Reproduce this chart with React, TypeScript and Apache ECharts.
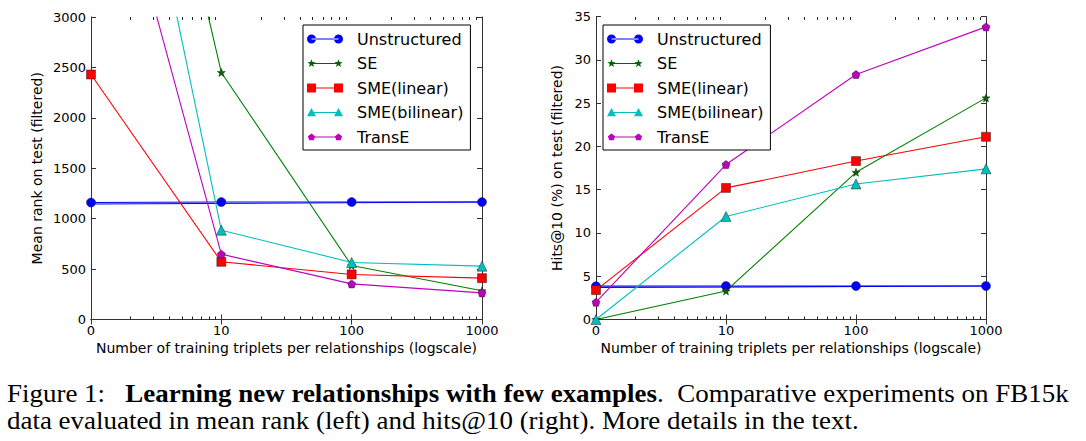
import React, { useEffect, useRef } from "react";
import * as echarts from "echarts";

// ---------- data ----------
const xPositions = [1, 10, 100, 1000]; // log-scale positions of the ticks
const xTickLabels = ["0", "10", "100", "1000"];
const minorTicks = [2, 3, 4, 5, 6, 7, 8, 9, 20, 30, 40, 50, 60, 70, 80, 90, 200, 300, 400, 500, 600, 700, 800, 900];

const seriesNames = ["Unstructured", "SE", "SME(linear)", "SME(bilinear)", "TransE"];

// Mean rank (left)
const mrUnstructured = [1160, 1165, 1165, 1165];
const mrUnstructuredLow = [1145, null, null, 1165];
const mrSE = [8000, 2450, 535, 285];
const mrSMELinear = [2430, 572, 447, 410];
const mrSMEBilinear = [7100, 886, 566, 529];
const mrTransE = [5400, 648, 353, 264];

// Hits@10 (right)
const hUnstructured = [3.85, 3.87, 3.87, 3.87];
const hUnstructuredLow = [3.7, null, null, 3.87];
const hSE = [0, 3.3, 17.0, 25.6];
const hSMELinear = [3.4, 15.2, 18.3, 21.1];
const hSMEBilinear = [0, 11.9, 15.66, 17.4];
const hTransE = [2.0, 17.9, 28.3, 33.8];

const leftY = { min: 0, max: 3000, interval: 500 };
const rightY = { min: 0, max: 35, interval: 5 };

// ---------- styles ----------
const FONT = "DejaVu Sans";
const AXIS_COLOR = "#333";
const colors: Record<string, string> = {
  Unstructured: "#0000ff",
  SE: "#008000",
  "SME(linear)": "#ff0000",
  "SME(bilinear)": "#00bfbf",
  TransE: "#bf00bf",
};
const markerFill: Record<string, string> = {
  Unstructured: "#0000ff",
  SE: "#006400",
  "SME(linear)": "#ff0000",
  "SME(bilinear)": "#00bfbf",
  TransE: "#bf00bf",
};

function starPath(cx: number, cy: number, R: number, r: number) {
  let d = "";
  for (let i = 0; i < 10; i++) {
    const rad = i % 2 === 0 ? R : r;
    const a = -Math.PI / 2 + (i * Math.PI) / 5;
    const x = cx + rad * Math.cos(a);
    const y = cy + rad * Math.sin(a);
    d += (i === 0 ? "M" : "L") + x.toFixed(2) + "," + y.toFixed(2) + " ";
  }
  return d + "Z ";
}
function pentPath(cx: number, cy: number, R: number) {
  let d = "";
  for (let i = 0; i < 5; i++) {
    const a = -Math.PI / 2 + (i * 2 * Math.PI) / 5;
    d += (i === 0 ? "M" : "L") + (cx + R * Math.cos(a)).toFixed(2) + "," + (cy + R * Math.sin(a)).toFixed(2) + " ";
  }
  return d + "Z ";
}
function circlePath(cx: number, cy: number, r: number) {
  return `M${cx - r},${cy} A${r},${r} 0 1,0 ${cx + r},${cy} A${r},${r} 0 1,0 ${cx - r},${cy} Z `;
}
function rectPath(cx: number, cy: number, h: number) {
  return `M${cx - h},${cy - h} L${cx + h},${cy - h} L${cx + h},${cy + h} L${cx - h},${cy + h} Z `;
}
function triPath(cx: number, cy: number, h: number) {
  return `M${cx},${cy - h} L${cx + h},${cy + h * 0.85} L${cx - h},${cy + h * 0.85} Z `;
}
const bar = "M4.5,4.45 L31.5,4.45 L31.5,5.55 L4.5,5.55 Z";
const frame = "M0,0 L0.01,0 Z M36,10 L35.99,10 Z ";
const legendIcons: Record<string, string> = {
  Unstructured: "path://" + circlePath(4.5, 5, 4.5) + circlePath(31.5, 5, 4.5) + bar,
  SE: "path://" + frame + starPath(4.5, 5, 4.2, 1.8) + starPath(31.5, 5, 4.2, 1.8) + bar,
  "SME(linear)": "path://" + rectPath(4.5, 5, 4.5) + rectPath(31.5, 5, 4.5) + bar,
  "SME(bilinear)": "path://" + frame + triPath(4.5, 5, 4.5) + triPath(31.5, 5, 4.5) + bar,
  TransE: "path://" + frame + pentPath(4.5, 5.3, 3.8) + pentPath(31.5, 5.3, 3.8) + bar,
};
const symbols: Record<string, { symbol: string; size: number }> = {
  Unstructured: { symbol: "circle", size: 9 },
  SE: { symbol: "path://" + starPath(50, 50, 50, 21), size: 8 },
  "SME(linear)": { symbol: "rect", size: 9 },
  "SME(bilinear)": { symbol: "triangle", size: 10 },
  TransE: { symbol: "path://" + pentPath(50, 50, 50), size: 8 },
};

function toPairs(vals: (number | null)[]) {
  return xPositions.map((x, i) => [x, vals[i] === null ? "-" : vals[i]]);
}

function lineSeries(name: string, vals: (number | null)[], ax: number, extra: any = {}) {
  return {
    type: "line",
    name,
    xAxisIndex: ax,
    yAxisIndex: ax,
    data: toPairs(vals),
    symbol: symbols[name] ? symbols[name].symbol : "none",
    symbolSize: symbols[name] ? symbols[name].size : 0,
    lineStyle: { color: colors[name], width: 1.1 },
    itemStyle: { color: markerFill[name], borderColor: "#222", borderWidth: 0.5 },
    clip: true,
    ...extra,
  };
}

function minorTickSeries(ax: number, yr: { min: number; max: number }) {
  return {
    type: "custom",
    xAxisIndex: ax,
    yAxisIndex: ax,
    silent: true,
    clip: false,
    data: minorTicks.map((v) => [v, (yr.min + yr.max) / 2]),
    encode: { x: 0, y: 1 },
    renderItem: (params: any, api: any) => {
      const cs = params.coordSys;
      const p = api.coord([api.value(0), api.value(1)]);
      const x = Math.round(p[0]) + 0.5;
      const top = Math.round(cs.y);
      const bottom = Math.round(cs.y + cs.height);
      const st = { stroke: "#222", lineWidth: 1 };
      return {
        type: "group",
        children: [
          { type: "line", shape: { x1: x, y1: bottom, x2: x, y2: bottom - 3.5 }, style: st, z2: 10 },
          { type: "line", shape: { x1: x, y1: top, x2: x, y2: top + 3 }, style: st, z2: 10 },
        ],
      };
    },
    z: 10,
  };
}

function xAxes(grid: number, name: string) {
  const base = {
    type: "log",
    logBase: 10,
    min: 1,
    max: 1000,
    gridIndex: grid,
    splitLine: { show: false },
    axisLine: { lineStyle: { color: AXIS_COLOR, width: 1 } },
    axisTick: { inside: true, length: 5, lineStyle: { color: AXIS_COLOR } },
  };
  return [
    {
      ...base,
      position: "bottom",
      name,
      nameLocation: "middle",
      nameGap: 17,
      nameTextStyle: { fontFamily: FONT, fontSize: 14, color: "#000" },
      axisLabel: {
        fontFamily: FONT,
        fontSize: 13,
        color: "#000",
        margin: 4,
        formatter: (v: number) => {
          const i = xPositions.findIndex((p) => Math.abs(p - v) < 1e-6);
          return i >= 0 ? xTickLabels[i] : "";
        },
      },
    },
    { ...base, position: "top", axisLabel: { show: false } },
  ];
}

function yAxes(grid: number, r: { min: number; max: number; interval: number }, name: string, gap: number) {
  const base = {
    type: "value",
    gridIndex: grid,
    min: r.min,
    max: r.max,
    interval: r.interval,
    splitLine: { show: false },
    axisLine: { show: true, lineStyle: { color: AXIS_COLOR, width: 1 } },
    axisTick: { show: true, inside: true, length: 5, lineStyle: { color: AXIS_COLOR } },
  };
  return [
    {
      ...base,
      position: "left",
      name,
      nameLocation: "middle",
      nameGap: gap,
      nameTextStyle: { fontFamily: FONT, fontSize: 14, color: "#000" },
      axisLabel: { fontFamily: FONT, fontSize: 13, color: "#000", margin: 5, formatter: (v: number) => String(v) },
    },
    { ...base, position: "right", axisLabel: { show: false } },
  ];
}

function legend(left: number) {
  return {
    orient: "vertical",
    left,
    top: 25,
    data: seriesNames.map((n) => ({ name: n, icon: legendIcons[n] })),
    itemWidth: 36,
    itemHeight: 10,
    itemGap: 8.5,
    padding: [6, 7, 5, 4],
    backgroundColor: "#fff",
    borderColor: "#000",
    borderWidth: 1,
    borderRadius: 0,
    selectedMode: false,
    itemStyle: { borderWidth: 0 },
    textStyle: { fontFamily: FONT, fontSize: 16, color: "#000", padding: [0, 0, 0, 9] },
  };
}

export default function App() {
  const ref = useRef<HTMLDivElement>(null);
  useEffect(() => {
    if (!ref.current) return;
    const chart = echarts.init(ref.current, null, { renderer: "svg" });
    const mr = [mrUnstructured, mrSE, mrSMELinear, mrSMEBilinear, mrTransE];
    const hv = [hUnstructured, hSE, hSMELinear, hSMEBilinear, hTransE];
    const capFont = { fontFamily: "Liberation Serif", fontSize: 24.5, lineHeight: 25, fill: "#000" };
    const option: any = {
      animation: false,
      backgroundColor: "#fff",
      grid: [
        { left: 91, top: 17, width: 391, height: 302.5 },
        { left: 596, top: 16.5, width: 390, height: 303 },
      ],
      xAxis: [
        ...xAxes(0, "Number of training triplets per relationships (logscale)"),
        ...xAxes(1, "Number of training triplets per relationships (logscale)"),
      ],
      yAxis: [
        ...yAxes(0, leftY, "Mean rank on test (filtered)", 47),
        ...yAxes(1, rightY, "Hits@10 (%) on test (filtered)", 32),
      ],
      legend: [legend(303), legend(603)],
      series: [
        lineSeries("Unstructured", mrUnstructuredLow, 0, { name: "Unstructured low", symbol: "none", connectNulls: true, lineStyle: { color: colors.Unstructured, width: 1.1 } }),
        ...seriesNames.map((n, i) => lineSeries(n, mr[i], 0)),
        lineSeries("Unstructured", hUnstructuredLow, 2, { name: "Unstructured low", symbol: "none", connectNulls: true, lineStyle: { color: colors.Unstructured, width: 1.1 } }),
        ...seriesNames.map((n, i) => lineSeries(n, hv[i], 2)),
        minorTickSeries(0, leftY),
        minorTickSeries(2, rightY),
      ],
      graphic: [
        {
          type: "text",
          x: 7,
          y: 394,
          scaleX: 1.1,
          style: {
            text: "{n|Figure 1:   }{b|Learning new relationships with few examples}{n|.  Comparative experiments on FB15k}",
            verticalAlign: "middle",
            rich: {
              n: { ...capFont },
              b: { ...capFont, fontWeight: "bold" },
            },
          },
        },
        {
          type: "text",
          x: 7,
          y: 421,
          scaleX: 1.1,
          style: {
            text: "data evaluated in mean rank (left) and hits@10 (right). More details in the text.",
            verticalAlign: "middle",
            ...capFont,
          },
        },
      ],
    };
    chart.setOption(option);
    return () => chart.dispose();
  }, []);
  return <div ref={ref} style={{ position: "fixed", left: 0, top: 0, width: 1086, height: 441 }} />;
}
